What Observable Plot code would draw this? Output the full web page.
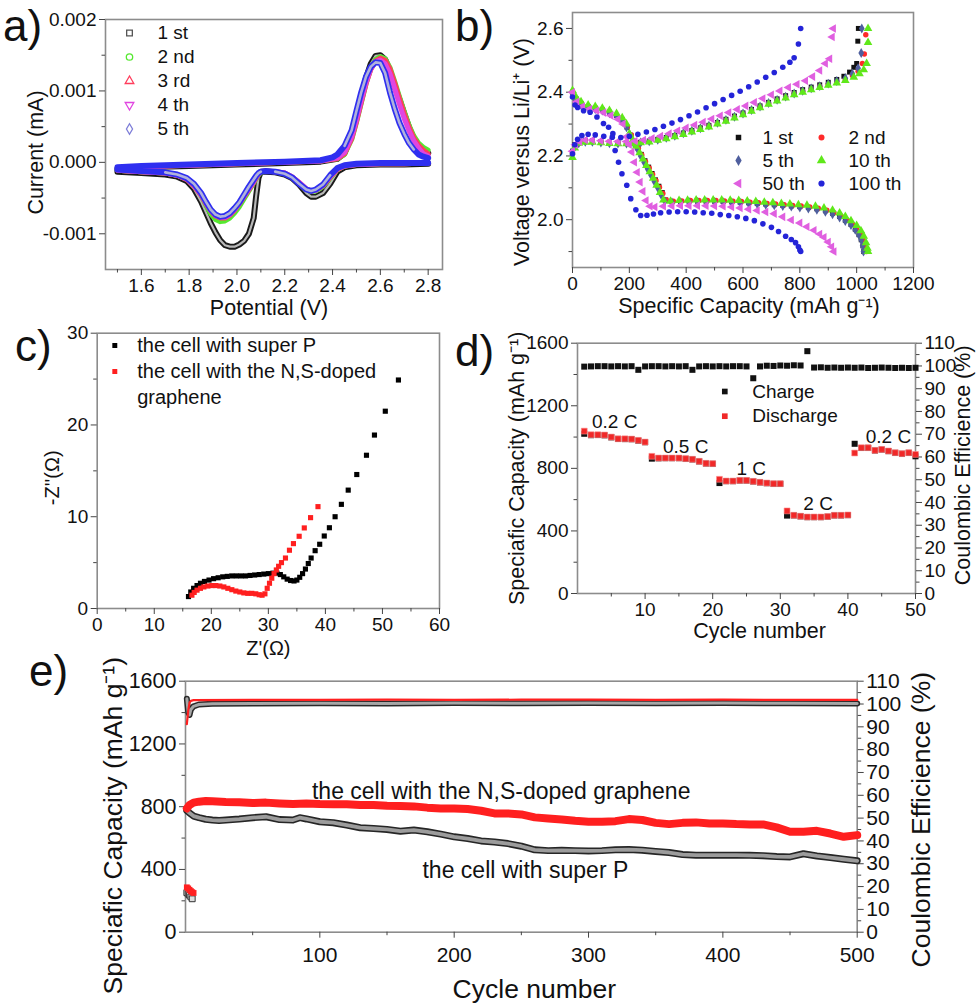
<!DOCTYPE html>
<html><head><meta charset="utf-8">
<script src="https://cdn.jsdelivr.net/npm/d3@7"></script>
<script src="https://cdn.jsdelivr.net/npm/@observablehq/plot@0.6"></script>
<style>
body{margin:0;background:#fff}
#fig{position:relative;width:980px;height:1006px;overflow:hidden;background:#fff;font-family:'Liberation Sans',Arial,sans-serif}
</style>
</head><body><div id="fig"></div>
<script>
// ---------------- DATA ----------------
// (a) cyclic voltammetry, [potential V, current mA]; cathodic sweep then anodic sweep
const cv1 = [[2.80,-0.00002],[2.70,-0.00003],[2.60,-0.00003],[2.50,-0.00004],[2.45,-0.00007],[2.42,-0.00013],[2.39,-0.00030],[2.36,-0.00043],[2.33,-0.00048],[2.31,-0.00048],[2.29,-0.00043],[2.26,-0.00031],[2.23,-0.00022],[2.20,-0.00017],[2.16,-0.00014],[2.12,-0.00013],[2.10,-0.00013],[2.09,-0.00022],[2.08,-0.00048],[2.07,-0.00078],[2.05,-0.00100],[2.03,-0.00110],[2.01,-0.00115],[1.99,-0.00118],[1.97,-0.00118],[1.95,-0.00116],[1.93,-0.00109],[1.91,-0.00098],[1.89,-0.00085],[1.87,-0.00070],[1.85,-0.00055],[1.82,-0.00037],[1.79,-0.00026],[1.75,-0.00020],[1.70,-0.00017],[1.60,-0.00015],[1.50,-0.00013],
  [1.50,-0.00009],[1.60,-0.00007],[1.80,-0.00005],[2.00,-0.00003],[2.20,-0.00001],[2.35,0.00001],[2.42,0.00005],[2.45,0.00013],[2.48,0.00038],[2.50,0.00065],[2.52,0.00092],[2.54,0.00118],[2.56,0.00138],[2.58,0.00149],[2.60,0.00150],[2.62,0.00144],[2.64,0.00128],[2.66,0.00106],[2.68,0.00088],[2.70,0.00068],[2.72,0.00049],[2.74,0.00033],[2.76,0.00024],[2.78,0.00018],[2.80,0.00013]];
const cv2 = [[2.80,-0.00001],[2.70,-0.00002],[2.60,-0.00002],[2.50,-0.00003],[2.45,-0.00005],[2.42,-0.00010],[2.39,-0.00022],[2.36,-0.00034],[2.33,-0.00040],[2.31,-0.00041],[2.29,-0.00038],[2.26,-0.00029],[2.23,-0.00021],[2.20,-0.00016],[2.16,-0.00013],[2.12,-0.00012],[2.10,-0.00014],[2.09,-0.00018],[2.08,-0.00023],[2.07,-0.00029],[2.05,-0.00040],[2.03,-0.00051],[2.01,-0.00062],[1.99,-0.00071],[1.97,-0.00078],[1.95,-0.00082],[1.93,-0.00083],[1.91,-0.00080],[1.89,-0.00072],[1.87,-0.00060],[1.85,-0.00046],[1.82,-0.00032],[1.79,-0.00023],[1.75,-0.00018],[1.70,-0.00015],[1.60,-0.00013],[1.50,-0.00011],
  [1.50,-0.00008],[1.60,-0.00006],[1.80,-0.00004],[2.00,-0.00002],[2.20,0.00000],[2.35,0.00002],[2.42,0.00005],[2.45,0.00011],[2.48,0.00032],[2.50,0.00056],[2.52,0.00083],[2.54,0.00110],[2.56,0.00131],[2.58,0.00144],[2.60,0.00148],[2.62,0.00145],[2.64,0.00133],[2.66,0.00113],[2.68,0.00092],[2.70,0.00071],[2.72,0.00052],[2.74,0.00037],[2.76,0.00027],[2.78,0.00021],[2.80,0.00017]];
const cv3 = [[2.80,-0.00001],[2.70,-0.00002],[2.60,-0.00002],[2.50,-0.00003],[2.45,-0.00005],[2.42,-0.00010],[2.39,-0.00021],[2.36,-0.00033],[2.33,-0.00039],[2.31,-0.00040],[2.29,-0.00037],[2.26,-0.00028],[2.23,-0.00020],[2.20,-0.00015],[2.16,-0.00013],[2.12,-0.00012],[2.10,-0.00013],[2.09,-0.00017],[2.08,-0.00022],[2.07,-0.00028],[2.05,-0.00038],[2.03,-0.00048],[2.01,-0.00058],[1.99,-0.00067],[1.97,-0.00074],[1.95,-0.00078],[1.93,-0.00078],[1.91,-0.00075],[1.89,-0.00068],[1.87,-0.00058],[1.85,-0.00046],[1.82,-0.00033],[1.79,-0.00024],[1.75,-0.00018],[1.70,-0.00015],[1.60,-0.00013],[1.50,-0.00011],
  [1.50,-0.00008],[1.60,-0.00006],[1.80,-0.00004],[2.00,-0.00002],[2.20,0.00000],[2.35,0.00002],[2.42,0.00005],[2.45,0.00012],[2.48,0.00033],[2.50,0.00057],[2.52,0.00084],[2.54,0.00110],[2.56,0.00130],[2.58,0.00142],[2.60,0.00146],[2.62,0.00143],[2.64,0.00131],[2.66,0.00111],[2.68,0.00089],[2.70,0.00068],[2.72,0.00049],[2.74,0.00034],[2.76,0.00024],[2.78,0.00017],[2.80,0.00012]];
const cv4 = [[2.80,-0.00001],[2.70,-0.00002],[2.60,-0.00002],[2.50,-0.00003],[2.45,-0.00005],[2.42,-0.00009],[2.39,-0.00020],[2.36,-0.00032],[2.33,-0.00039],[2.31,-0.00040],[2.29,-0.00037],[2.26,-0.00028],[2.23,-0.00020],[2.20,-0.00015],[2.16,-0.00013],[2.12,-0.00012],[2.10,-0.00013],[2.09,-0.00016],[2.08,-0.00021],[2.07,-0.00027],[2.05,-0.00037],[2.03,-0.00047],[2.01,-0.00057],[1.99,-0.00066],[1.97,-0.00073],[1.95,-0.00077],[1.93,-0.00077],[1.91,-0.00074],[1.89,-0.00067],[1.87,-0.00057],[1.85,-0.00045],[1.82,-0.00032],[1.79,-0.00023],[1.75,-0.00018],[1.70,-0.00015],[1.60,-0.00013],[1.50,-0.00011],
  [1.50,-0.00008],[1.60,-0.00006],[1.80,-0.00004],[2.00,-0.00002],[2.20,0.00000],[2.35,0.00002],[2.42,0.00006],[2.45,0.00014],[2.48,0.00036],[2.50,0.00060],[2.52,0.00087],[2.54,0.00112],[2.56,0.00131],[2.58,0.00141],[2.60,0.00143],[2.62,0.00138],[2.64,0.00124],[2.66,0.00103],[2.68,0.00081],[2.70,0.00061],[2.72,0.00044],[2.74,0.00030],[2.76,0.00020],[2.78,0.00012],[2.80,0.00009]];
const cv5 = [[2.80,-0.00001],[2.70,-0.00001],[2.60,-0.00001],[2.50,-0.00002],[2.45,-0.00004],[2.42,-0.00008],[2.39,-0.00018],[2.36,-0.00031],[2.33,-0.00038],[2.31,-0.00040],[2.29,-0.00038],[2.26,-0.00030],[2.23,-0.00021],[2.20,-0.00016],[2.16,-0.00013],[2.12,-0.00012],[2.10,-0.00013],[2.09,-0.00015],[2.08,-0.00019],[2.07,-0.00024],[2.05,-0.00034],[2.03,-0.00045],[2.01,-0.00056],[1.99,-0.00064],[1.97,-0.00071],[1.95,-0.00075],[1.93,-0.00076],[1.91,-0.00073],[1.89,-0.00066],[1.87,-0.00055],[1.85,-0.00043],[1.82,-0.00030],[1.79,-0.00022],[1.75,-0.00017],[1.70,-0.00014],[1.60,-0.00012],[1.50,-0.00010],
  [1.50,-0.00007],[1.60,-0.00005],[1.80,-0.00003],[2.00,-0.00001],[2.20,0.00001],[2.35,0.00003],[2.40,0.00007],[2.42,0.00011],[2.45,0.00023],[2.48,0.00045],[2.50,0.00072],[2.52,0.00098],[2.54,0.00120],[2.56,0.00134],[2.58,0.00140],[2.60,0.00139],[2.62,0.00125],[2.64,0.00098],[2.66,0.00075],[2.68,0.00055],[2.70,0.00040],[2.72,0.00027],[2.74,0.00018],[2.76,0.00011],[2.78,0.00008],[2.80,0.00006]];
const cvLabels = ["1 st", "2 nd", "3 rd", "4 th", "5 th"];
const aXTicks = [1.6, 1.8, 2.0, 2.2, 2.4, 2.6, 2.8];
const aXMinor = [1.5, 1.7, 1.9, 2.1, 2.3, 2.5, 2.7];
const aYTicks = [-0.001, 0, 0.001, 0.002];
const aYMinor = [-0.0005, 0.0005, 0.0015];

// (b) discharge / charge profiles, [capacity mAh/g, voltage V]
const b1Dis = [[0,2.40],[12,2.38],[30,2.365],[55,2.355],[80,2.35],[105,2.345],[130,2.337],[155,2.327],[175,2.313],[192,2.29],[205,2.265],[218,2.245],[230,2.225],[242,2.205],[255,2.185],[268,2.165],[280,2.145],[292,2.125],[304,2.105],[316,2.085],[328,2.062],[350,2.056],[380,2.057],[410,2.058],[440,2.058],[470,2.058],[500,2.058],[530,2.057],[560,2.056],[590,2.055],[620,2.053],[650,2.051],[680,2.049],[710,2.047],[740,2.045],[770,2.043],[800,2.041],[830,2.038],[860,2.034],[890,2.028],[915,2.02],[940,2.01],[960,1.998],[980,1.985],[995,1.97],[1008,1.953],[1016,1.937],[1022,1.918],[1025,1.90]];
const b2Dis = [[0,2.40],[12,2.38],[30,2.366],[55,2.356],[80,2.351],[105,2.346],[130,2.338],[155,2.328],[175,2.315],[193,2.292],[207,2.266],[220,2.245],[232,2.224],[244,2.203],[257,2.182],[270,2.162],[282,2.142],[294,2.122],[306,2.102],[318,2.082],[330,2.062],[355,2.058],[385,2.059],[415,2.06],[445,2.06],[475,2.06],[505,2.06],[535,2.059],[565,2.058],[595,2.057],[625,2.055],[655,2.053],[685,2.051],[715,2.049],[745,2.047],[775,2.045],[805,2.043],[835,2.04],[865,2.036],[895,2.03],[920,2.022],[945,2.012],[965,2.0],[985,1.987],[1000,1.972],[1013,1.955],[1022,1.938],[1030,1.918],[1035,1.90]];
const b5Dis = [[0,2.395],[12,2.375],[30,2.36],[55,2.352],[80,2.347],[105,2.342],[130,2.334],[155,2.324],[175,2.31],[190,2.29],[203,2.265],[216,2.243],[228,2.222],[240,2.2],[252,2.18],[264,2.16],[276,2.14],[288,2.12],[300,2.1],[312,2.078],[325,2.058],[350,2.054],[380,2.055],[410,2.056],[440,2.056],[470,2.056],[500,2.056],[530,2.055],[560,2.054],[590,2.053],[620,2.051],[650,2.049],[680,2.047],[710,2.045],[740,2.043],[770,2.041],[800,2.038],[830,2.035],[860,2.031],[890,2.025],[915,2.017],[940,2.007],[960,1.996],[980,1.983],[995,1.968],[1008,1.952],[1016,1.936],[1021,1.918],[1024,1.90]];
const b10Dis = [[0,2.405],[12,2.385],[30,2.37],[55,2.36],[80,2.355],[105,2.35],[130,2.343],[155,2.333],[175,2.32],[190,2.30],[200,2.27],[212,2.25],[224,2.23],[236,2.21],[248,2.19],[260,2.17],[272,2.15],[284,2.13],[296,2.108],[308,2.085],[320,2.062],[345,2.058],[375,2.06],[405,2.061],[435,2.062],[465,2.062],[495,2.062],[525,2.062],[555,2.061],[585,2.06],[615,2.059],[645,2.057],[675,2.055],[705,2.053],[735,2.051],[765,2.049],[795,2.047],[825,2.045],[855,2.042],[885,2.037],[915,2.03],[940,2.021],[960,2.01],[980,1.997],[1000,1.982],[1015,1.965],[1025,1.948],[1033,1.928],[1038,1.91],[1040,1.90]];
const b50Dis = [[0,2.40],[15,2.37],[35,2.355],[60,2.347],[85,2.342],[110,2.336],[135,2.327],[160,2.315],[178,2.30],[190,2.26],[200,2.235],[209,2.212],[218,2.18],[228,2.149],[238,2.118],[248,2.089],[259,2.06],[273,2.042],[290,2.04],[320,2.042],[350,2.043],[380,2.044],[410,2.044],[440,2.044],[470,2.044],[500,2.043],[530,2.042],[560,2.04],[590,2.037],[620,2.033],[650,2.029],[680,2.024],[710,2.019],[740,2.009],[770,1.999],[800,1.99],[825,1.978],[850,1.967],[870,1.955],[885,1.945],[900,1.93],[912,1.915],[920,1.90]];
const b100Dis = [[0,2.385],[9,2.36],[18,2.352],[39,2.342],[62,2.337],[86,2.322],[109,2.302],[127,2.29],[142,2.27],[150,2.217],[162,2.18],[174,2.144],[191,2.108],[205,2.066],[223,2.031],[240,2.013],[262,2.014],[285,2.018],[310,2.022],[340,2.024],[370,2.025],[400,2.025],[430,2.024],[460,2.022],[490,2.02],[520,2.016],[550,2.013],[580,2.009],[610,2.004],[640,1.997],[670,1.987],[700,1.976],[725,1.963],[750,1.948],[770,1.938],[785,1.928],[795,1.915],[800,1.905],[803,1.90]];
const b1Chg = [[0,2.215],[8,2.235],[22,2.245],[45,2.248],[70,2.247],[100,2.245],[130,2.243],[160,2.242],[190,2.241],[215,2.241],[240,2.243],[270,2.247],[300,2.252],[330,2.258],[360,2.264],[390,2.272],[420,2.28],[450,2.288],[480,2.296],[510,2.305],[540,2.315],[570,2.325],[600,2.335],[630,2.346],[660,2.357],[690,2.368],[720,2.379],[750,2.389],[780,2.399],[810,2.408],[840,2.416],[870,2.423],[900,2.431],[930,2.44],[955,2.45],[975,2.463],[990,2.478],[1000,2.49],[1004,2.56],[1006,2.60]];
const b2Chg = [[0,2.21],[8,2.232],[22,2.243],[45,2.246],[70,2.245],[100,2.243],[130,2.241],[160,2.24],[190,2.239],[215,2.239],[240,2.241],[270,2.245],[300,2.25],[330,2.256],[360,2.262],[390,2.27],[420,2.278],[450,2.286],[480,2.294],[510,2.303],[540,2.312],[570,2.322],[600,2.332],[630,2.343],[660,2.354],[690,2.365],[720,2.375],[750,2.385],[780,2.395],[810,2.403],[840,2.411],[870,2.418],[900,2.425],[930,2.432],[960,2.44],[985,2.452],[1005,2.466],[1020,2.49],[1027,2.52],[1032,2.58]];
const b5Chg = [[0,2.205],[8,2.228],[22,2.24],[45,2.244],[70,2.244],[100,2.242],[130,2.24],[160,2.239],[190,2.239],[215,2.24],[240,2.242],[270,2.246],[300,2.251],[330,2.257],[360,2.263],[390,2.271],[420,2.279],[450,2.287],[480,2.295],[510,2.304],[540,2.313],[570,2.323],[600,2.333],[630,2.344],[660,2.355],[690,2.366],[720,2.376],[750,2.386],[780,2.396],[810,2.404],[840,2.412],[870,2.419],[900,2.427],[930,2.435],[960,2.444],[985,2.458],[1005,2.475],[1016,2.523],[1018,2.60]];
const b10Chg = [[0,2.195],[8,2.225],[22,2.24],[45,2.243],[70,2.243],[100,2.241],[130,2.239],[160,2.238],[190,2.238],[215,2.239],[240,2.241],[270,2.244],[300,2.249],[330,2.254],[360,2.26],[390,2.267],[420,2.275],[450,2.283],[480,2.291],[510,2.3],[540,2.309],[570,2.319],[600,2.329],[630,2.34],[660,2.351],[690,2.362],[720,2.372],[750,2.382],[780,2.392],[810,2.4],[840,2.408],[870,2.415],[900,2.422],[930,2.429],[960,2.437],[990,2.447],[1010,2.458],[1025,2.47],[1035,2.49],[1040,2.556],[1040,2.60]];
const b50Chg = [[0,2.215],[10,2.235],[25,2.245],[45,2.25],[70,2.25],[100,2.248],[130,2.246],[160,2.245],[190,2.245],[220,2.247],[250,2.25],[280,2.255],[310,2.262],[340,2.27],[370,2.279],[400,2.288],[430,2.297],[460,2.306],[490,2.316],[520,2.326],[550,2.336],[580,2.346],[610,2.357],[640,2.368],[670,2.38],[700,2.392],[730,2.404],[760,2.415],[790,2.425],[820,2.436],[845,2.449],[870,2.468],[890,2.49],[905,2.505],[914,2.573],[918,2.60]];
const b100Chg = [[0,2.207],[8,2.235],[18,2.252],[33,2.264],[55,2.268],[80,2.266],[110,2.262],[140,2.259],[170,2.258],[200,2.262],[230,2.268],[260,2.275],[290,2.283],[320,2.293],[350,2.303],[380,2.314],[410,2.326],[440,2.338],[470,2.351],[500,2.364],[530,2.377],[560,2.39],[590,2.403],[620,2.417],[650,2.432],[680,2.447],[710,2.462],[740,2.478],[765,2.494],[780,2.508],[795,2.551],[803,2.60]];
const bLabels = ["1 st", "2 nd", "5 th", "10 th", "50 th", "100 th"];
const bXTicks = [0, 200, 400, 600, 800, 1000, 1200];
const bXMinor = [100, 300, 500, 700, 900, 1100];
const bYTicks = [2.0, 2.2, 2.4, 2.6];
const bYMinor = [1.9, 2.1, 2.3, 2.5];

// (c) Nyquist plots, [Z' ohm, -Z'' ohm]
const cSuperP = [[16.0,1.3],[16.4,1.8],[16.9,2.2],[17.5,2.5],[18.1,2.75],[18.8,2.95],[19.6,3.1],[20.4,3.25],[21.2,3.35],[22.0,3.45],[22.8,3.5],[23.6,3.55],[24.4,3.55],[25.2,3.55],[26.0,3.55],[26.8,3.6],[27.6,3.65],[28.4,3.7],[29.2,3.75],[30.0,3.8],[30.8,3.85],[31.5,3.85],[32.1,3.7],[32.7,3.45],[33.3,3.2],[33.9,3.05],[34.5,3.0],[35.0,3.1],[35.5,3.4],[36.0,3.8],[36.5,4.3],[37.0,4.9],[37.5,5.5],[38.2,6.3],[39.0,7.0],[39.8,7.9],[40.7,8.8],[41.7,10.0],[42.8,11.35],[44.0,12.9],[45.5,14.6],[47.2,16.7],[48.6,18.9],[50.5,21.5],[52.8,24.9]];
const cNSG = [[16.6,1.45],[17.0,1.75],[17.5,2.0],[18.1,2.2],[18.7,2.35],[19.4,2.45],[20.1,2.5],[20.8,2.5],[21.5,2.45],[22.2,2.35],[22.9,2.2],[23.6,2.05],[24.3,1.9],[25.0,1.8],[25.7,1.7],[26.4,1.65],[27.1,1.65],[27.8,1.6],[28.4,1.5],[28.9,1.45],[29.4,1.6],[29.8,2.2],[30.2,2.75],[30.6,3.3],[31.0,3.8],[31.4,4.2],[31.8,4.6],[32.3,5.0],[33.0,5.5],[33.7,6.35],[34.4,7.07],[35.4,7.87],[36.3,8.78],[37.4,9.9],[38.7,11.1]];
const cLabels = ["the cell with super P", "the cell with the N,S-doped", "graphene"];
const cXTicks = [0, 10, 20, 30, 40, 50, 60];
const cXMinor = [5, 15, 25, 35, 45, 55];
const cYTicks = [0, 10, 20, 30];
const cYMinor = [5, 15, 25];

// (d) rate capability
const dCycles = [1,2,3,4,5,6,7,8,9,10,11,12,13,14,15,16,17,18,19,20,21,22,23,24,25,26,27,28,29,30,31,32,33,34,35,36,37,38,39,40,41,42,43,44,45,46,47,48,49,50];
const dDischarge = [1038,1015,1015,1013,1000,989,989,987,979,968, 877,866,866,866,866,862,858,845,832,830, 730,719,719,723,723,717,711,706,702,702, 528,500,494,489,489,489,492,500,500,502, 898,932,932,915,921,911,900,894,900,889];
const dCharge = [1021,1012,1013,1011,998,988,987,986,977,967, 862,864,865,865,865,861,857,844,831,829, 706,718,718,722,722,716,710,705,701,701, 498,499,493,488,488,488,491,499,499,501, 957,930,931,914,920,910,899,893,899,877];
const dCE = [99.7,99.8,99.9,99.9,99.8,99.9,99.8,99.9,98.3,99.8, 99.9,99.9,99.8,99.9,99.8,99.9,98.3,99.8,99.9,99.8, 99.9,99.8,99.9,99.9,99.8,94.6,99.8,100.1,100.0,100.2, 100.1,100.3,100.2,106.5,99.3,99.4,99.2,99.3,99.2,99.3, 99.2,99.3,99.1,99.2,99.3,99.2,99.1,99.2,99.1,99.2];
const dRateLabels = ["0.2 C", "0.5 C", "1 C", "2 C", "0.2 C"];
const dRateCycle = [5.5, 16, 25.7, 35.6, 46];
const dRateCap = [1096, 936, 798, 574, 1000];
const dLegend = ["Charge", "Discharge"];
const dXTicks = [10, 20, 30, 40, 50];
const dXMinor = [5, 15, 25, 35, 45];
const capTicks = [0, 400, 800, 1200, 1600];
const capMinor = [200, 600, 1000, 1400];
const ceTicks = [0, 10, 20, 30, 40, 50, 60, 70, 80, 90, 100, 110];
const ceMinor = [5, 15, 25, 35, 45, 55, 65, 75, 85, 95, 105];

// (e) long cycling, [cycle, capacity mAh/g] and [cycle, CE %]
const eNSCap = [[1,789],[3,811],[6,826],[10,832],[15,836],[20,834],[30,830],[40,828],[50,823],[60,826],[70,821],[80,817],[90,821],[100,817],[110,815],[120,815],[130,811],[140,811],[150,806],[160,804],[170,802],[180,794],[190,789],[200,789],[210,785],[220,774],[230,757],[240,757],[250,751],[260,732],[270,725],[280,719],[290,710],[300,704],[310,704],[320,708],[330,721],[340,715],[350,697],[360,689],[370,697],[380,700],[390,693],[400,693],[410,689],[420,687],[430,687],[440,668],[450,640],[460,640],[470,646],[480,629],[490,608],[500,619]];
const eSPCap = [[1,775],[3,760],[6,740],[10,730],[15,720],[20,715],[25,712],[30,715],[40,721],[50,730],[60,736],[70,718],[80,715],[85,730],[90,722],[100,704],[110,698],[120,683],[130,666],[140,661],[150,655],[160,644],[170,651],[180,640],[190,625],[200,608],[210,597],[220,582],[230,575],[240,565],[250,548],[260,525],[270,520],[280,522],[290,520],[300,518],[310,520],[320,525],[330,527],[340,523],[350,515],[360,508],[370,495],[380,491],[390,491],[400,491],[410,491],[420,490],[430,488],[440,482],[450,480],[460,500],[470,486],[480,476],[490,465],[500,455]];
const eNSFirst = [[1,286],[2,279],[3,270],[4,262],[5,255],[6,250]];
const eSPFirst = [[1,252],[2,244],[3,236],[4,225],[5,213]];
const eNSCE = [[1,91.2],[2,97],[3,100.6],[4,101.4],[6,101.7],[50,101.8],[100,101.8],[150,101.9],[200,101.8],[250,101.9],[300,101.9],[350,101.8],[400,101.9],[450,101.8],[500,101.8]];
const eSPCE = [[1,102.3],[2,96.4],[3,95.2],[4,97.6],[6,99.0],[10,99.8],[20,100.1],[50,100.2],[100,100.3],[150,100.2],[200,100.4],[250,100.3],[300,100.4],[350,100.3],[400,100.4],[450,100.3],[500,100.2]];
const eLabels = ["the cell with the N,S-doped graphene", "the cell with super P"];
const eLabelCycle = [235, 253];
const eLabelCap = [896, 395];
const eXTicks = [100, 200, 300, 400, 500];
const eXMinor = [50, 150, 250, 350, 450];

const CAP_MAX = 1600, CE_MAX = 110;

// ---------------- HELPERS ----------------
const FONT = "'Liberation Sans', Arial, Helvetica, sans-serif";
const fig = document.getElementById("fig");
function place(el, left, top) {
  el.style.position = "absolute"; el.style.left = left + "px"; el.style.top = top + "px";
  fig.appendChild(el);
}
const STYLE = {fontFamily: FONT, background: "transparent", overflow: "visible", color: "#111"};
const AX = {stroke: "#444", fill: "#111", label: null, tickPadding: 3};
const frame = () => Plot.frame({stroke: "#8c8c8c", strokeWidth: 1.6});
const xMaj = (t, f, fs, pad = 3) => Plot.axisX(t, {...AX, tickPadding: pad, tickSize: 6, fontSize: fs, tickFormat: f});
const xMin = (t) => Plot.axisX(t, {...AX, tickSize: 3.5, tickFormat: () => ""});
const yMaj = (t, f, fs, anchor = "left") => Plot.axisY(t, {...AX, anchor, tickSize: 6, fontSize: fs, tickFormat: f});
const yMin = (t, anchor = "left") => Plot.axisY(t, {...AX, anchor, tickSize: 3.5, tickFormat: () => ""});
const title = (txt, anchor, dx, dy, fs, rotate = 0) =>
  Plot.text([txt], {text: d => d, frameAnchor: anchor, dx, dy, fontSize: fs, rotate, textAnchor: "middle", lineAnchor: "middle", fill: "#111"});
const legDot = (dx, dy, o) => Plot.dot([0], {frameAnchor: "top-left", dx, dy, ...o});
const legText = (txt, dx, dy, fs) => Plot.text([txt], {text: d => d, frameAnchor: "top-left", dx, dy, fontSize: fs, textAnchor: "start", lineAnchor: "middle", fill: "#111"});
const XY = {x: d => d[0], y: d => d[1]};

// ---------------- (a) ----------------
const aColors = ["#555555", "#55e830", "#ff3d5c", "#e045e0", "#7e7ed8"];
const aSymbols = ["square", "circle", "triangle", "triangle", "diamond"];
const aRot = [0, 0, 0, 180, 0];
const aLegend = [];
cvLabels.forEach((lab, i) => {
  aLegend.push(legDot(24, 13.5 + i * 24, {symbol: aSymbols[i], r: 3.2, stroke: aColors[i], fill: "white", strokeWidth: 1.3, rotate: aRot[i]}));
  aLegend.push(legText(lab, 52, 13.5 + i * 24, 19));
});
place(Plot.plot({
  width: 470, height: 330, marginTop: 19, marginLeft: 105, marginRight: 28, marginBottom: 61,
  x: {domain: [1.45, 2.86]}, y: {domain: [-0.0015, 0.002]}, style: STYLE,
  marks: [
    frame(),
    xMaj(aXTicks, d => d.toFixed(1), 19), xMin(aXMinor),
    yMaj(aYTicks, d => d.toFixed(3), 19), yMin(aYMinor),
    Plot.line(cv1, {...XY, stroke: "#1a1a1a", strokeWidth: 6}),
    Plot.line(cv1, {...XY, stroke: "#b8b8b8", strokeWidth: 2.2}),
    Plot.line(cv2, {...XY, stroke: "#55e830", strokeWidth: 5}),
    Plot.line(cv3, {...XY, stroke: "#ff3d5c", strokeWidth: 5}),
    Plot.line(cv4, {...XY, stroke: "#e045e0", strokeWidth: 5}),
    Plot.line(cv5, {...XY, stroke: "#2f2ff0", strokeWidth: 6}),
    Plot.line(cv5, {x: d => d[0], y: d => Math.abs(d[1]) > 0.00012 ? d[1] : NaN, stroke: "#b0b2dc", strokeWidth: 2.6}),
    ...aLegend,
    title("Potential (V)", "bottom", -5, 39, 21.5),
    title("Current (mA)", "left", -69, 8, 21.5, -90)
  ]
}), 0, 0);

// ---------------- (b) ----------------
const bSeries = [
  {dis: b1Dis, chg: b1Chg, color: "#111111", symbol: "square", r: 2.8, rot: 0},
  {dis: b2Dis, chg: b2Chg, color: "#ff2a2a", symbol: "circle", r: 2.7, rot: 0},
  {dis: b5Dis, chg: b5Chg, color: "#4f5f9e", symbol: "diamond", r: 3.0, rot: 0},
  {dis: b10Dis, chg: b10Chg, color: "#5fe81a", symbol: "triangle", r: 3.2, rot: 0},
  {dis: b50Dis, chg: b50Chg, color: "#e05fe0", symbol: "triangle", r: 3.2, rot: -90},
  {dis: b100Dis, chg: b100Chg, color: "#2424d8", symbol: "circle", r: 2.8, rot: 0}
];
const bMarks = [];
bSeries.forEach(s => {
  const o = {...XY, symbol: s.symbol, r: s.r, fill: s.color, rotate: s.rot};
  bMarks.push(Plot.dot(s.dis, o), Plot.dot(s.chg, o));
});
const bLeg = [];
bSeries.forEach((s, i) => {
  const col = i % 2, row = Math.floor(i / 2);
  const mx = col ? 249 : 166, tx = col ? 276 : 190;
  bLeg.push(legDot(mx, 125 + row * 23, {symbol: s.symbol, r: s.r + 0.3, fill: s.color, rotate: s.rot}));
  bLeg.push(legText(bLabels[i], tx, 125 + row * 23, 19));
});
place(Plot.plot({
  width: 490, height: 330, marginTop: 12, marginLeft: 82, marginRight: 67, marginBottom: 63,
  x: {domain: [0, 1200]}, y: {domain: [1.85, 2.65]}, style: STYLE,
  marks: [
    frame(),
    xMaj(bXTicks, d => String(d), 19), xMin(bXMinor),
    yMaj(bYTicks, d => d.toFixed(1), 19), yMin(bYMinor),
    ...bMarks, ...bLeg,
    title("Specific Capacity (mAh g\u207B\u00B9)", "bottom", 6, 39, 21.5),
    title("Voltage versus Li/Li\u207A (V)", "left", -50, 12, 21.5, -90)
  ]
}), 490, 0);

// ---------------- (c) ----------------
place(Plot.plot({
  width: 480, height: 330, marginTop: 2.7, marginLeft: 96.7, marginRight: 41, marginBottom: 52,
  x: {domain: [0, 60]}, y: {domain: [0, 30]}, style: STYLE,
  marks: [
    frame(),
    xMaj(cXTicks, d => String(d), 19), xMin(cXMinor),
    yMaj(cYTicks, d => String(d), 19), yMin(cYMinor),
    Plot.dot(cSuperP, {...XY, symbol: "square", r: 2.9, fill: "#000"}),
    Plot.dot(cNSG, {...XY, symbol: "square", r: 2.9, fill: "#ff1f1f"}),
    legDot(17.6, 12.3, {symbol: "square", r: 2.8, fill: "#000"}),
    legText(cLabels[0], 40, 12.3, 20),
    legDot(17.6, 38.3, {symbol: "square", r: 2.8, fill: "#ff1f1f"}),
    legText(cLabels[1], 40, 38.3, 20),
    legText(cLabels[2], 40, 64, 20),
    title("Z'(\u03A9)", "bottom", 0, 40, 20),
    title("-Z''(\u03A9)", "left", -45, 7, 20, -90)
  ]
}), 0, 330);

// ---------------- (d) ----------------
const toCap = v => v * CAP_MAX / CE_MAX;
place(Plot.plot({
  width: 490, height: 330, marginTop: 12.7, marginLeft: 87, marginRight: 65, marginBottom: 67,
  x: {domain: [0, 50]}, y: {domain: [0, CAP_MAX]}, style: STYLE,
  marks: [
    frame(),
    xMaj(dXTicks, d => String(d), 19), xMin(dXMinor),
    yMaj(capTicks, d => String(d), 19), yMin(capMinor),
    yMaj(ceTicks.map(toCap), d => String(Math.round(d * CE_MAX / CAP_MAX)), 19, "right"),
    yMin(ceMinor.map(toCap), "right"),
    Plot.dot(dCycles, {x: dCycles, y: dCE.map(toCap), symbol: "square", r: 3.4, fill: "#111"}),
    Plot.dot(dCycles, {x: dCycles, y: dCharge, symbol: "square", r: 3.4, fill: "#111"}),
    Plot.dot(dCycles, {x: dCycles, y: dDischarge, symbol: "square", r: 3.3, fill: "#f02828", stroke: "#ff8a8a", strokeWidth: 0.6}),
    Plot.text(dRateLabels, {x: dRateCycle, y: dRateCap, text: d => d, fontSize: 19, fill: "#111"}),
    legDot(147.3, 48.3, {symbol: "square", r: 3.2, fill: "#111"}),
    legText(dLegend[0], 174.7, 48.3, 19),
    legDot(147.3, 73, {symbol: "square", r: 3.2, fill: "#f02828"}),
    legText(dLegend[1], 174.7, 73, 19),
    title("Cycle number", "bottom", 13, 38, 21.5),
    title("Speciafic Capacity (mAh g\u207B\u00B9)", "left", -60, 0, 21.5, -90),
    title("Coulombic Efficience (%)", "right", 48, -3, 21.5, -90)
  ]
}), 490, 330);

// ---------------- (e) ----------------
const ceXY = {x: d => d[0], y: d => toCap(d[1])};
place(Plot.plot({
  width: 980, height: 366, marginTop: 40.7, marginLeft: 185, marginRight: 123.3, marginBottom: 74.3,
  x: {domain: [0, 500]}, y: {domain: [0, CAP_MAX]}, style: STYLE,
  marks: [
    frame(),
    xMaj(eXTicks, d => String(d), 21, 9), xMin(eXMinor),
    yMaj(capTicks, d => String(d), 21.5), yMin(capMinor),
    yMaj(ceTicks.map(toCap), d => String(Math.round(d * CE_MAX / CAP_MAX)), 21, "right"),
    yMin(ceMinor.map(toCap), "right"),
    Plot.line(eSPCE, {...ceXY, stroke: "#2a2a2a", strokeWidth: 6}),
    Plot.line(eSPCE, {...ceXY, stroke: "#a6a6a6", strokeWidth: 3}),
    Plot.line(eNSCE, {...ceXY, stroke: "#ff2020", strokeWidth: 2.2}),
    Plot.line(eSPCap, {...XY, stroke: "#262626", strokeWidth: 7}),
    Plot.line(eSPCap, {...XY, stroke: "#9c9c9c", strokeWidth: 3.8}),
    Plot.line(eNSCap, {...XY, stroke: "#ff1f1f", strokeWidth: 8}),
    Plot.dot(eSPFirst, {...XY, symbol: "square", r: 3.3, fill: "#ddd", stroke: "#333", strokeWidth: 1}),
    Plot.dot(eNSFirst, {...XY, symbol: "square", r: 3.3, fill: "#ff2020"}),
    Plot.text(eLabels, {x: eLabelCycle, y: eLabelCap, text: d => d, fontSize: 23, fill: "#111"}),
    title("Cycle number", "bottom", 13, 57, 26.5),
    title("Speciafic Capacity (mAh g\u207B\u00B9)", "left", -72, 19, 26.5, -90),
    title("Coulombic Efficience (%)", "right", 64.3, 13, 26.5, -90)
  ]
}), 0, 640);

// ---------------- panel letters ----------------
const letters = d3.create("svg").attr("width", 980).attr("height", 1006)
  .style("position", "absolute").style("left", "0px").style("top", "0px").style("pointer-events", "none");
[["a)", 3, 41], ["b)", 455, 41], ["c)", 15, 361], ["d)", 455, 366], ["e)", 29, 686]].forEach(([t, x, y]) => {
  letters.append("text").attr("x", x).attr("y", y).attr("font-family", FONT).attr("font-size", 44).attr("fill", "#111").text(t);
});
fig.appendChild(letters.node());
</script></body></html>
